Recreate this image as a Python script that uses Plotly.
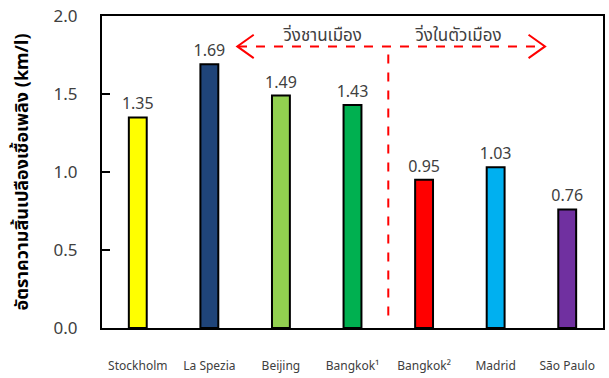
import plotly.graph_objects as go

cities = ["Stockholm", "La Spezia", "Beijing", "Bangkok¹", "Bangkok²", "Madrid", "São Paulo"]
km_per_litre = [1.35, 1.69, 1.49, 1.43, 0.95, 1.03, 0.76]
bar_colors = ["#FFFF00", "#1F4479", "#92D050", "#00B050", "#FF0000", "#00B0F0", "#7030A0"]
y_ticks = [0.0, 0.5, 1.0, 1.5, 2.0]

suburban_label = "วิ่งชานเมือง"
urban_label = "วิ่งในตัวเมือง"
y_title = "อัตราความสิ้นเปลืองเชื้อเพลิง (km/l)"

font_family = "Noto Sans, Noto Sans Thai, sans-serif"
text_grey = "#404040"

fig = go.Figure()
fig.add_trace(go.Bar(
    x=list(range(len(cities))),
    y=km_per_litre,
    width=0.25,
    marker=dict(color=bar_colors, line=dict(color="black", width=2)),
    text=[f"{v:.2f}" for v in km_per_litre],
    textposition="outside",
    constraintext="none",
    textfont=dict(family=font_family, size=16, color=text_grey),
    cliponaxis=False,
))

dash_style = dict(color="#FF0000", width=2, dash="dash")
# group divider and the horizontal guide line
fig.add_shape(type="line", xref="x", yref="y", x0=3.5, x1=3.5, y0=0.08, y1=1.805, line=dash_style)
fig.add_shape(type="line", xref="x", yref="y", x0=1.4, x1=5.68, y0=1.805, y1=1.805, line=dash_style)
# arrow heads
fig.add_shape(type="path", xref="x", yref="y",
              path="M 1.62 1.88 L 1.39 1.805 L 1.62 1.73",
              line=dict(color="#FF0000", width=2))
fig.add_shape(type="path", xref="x", yref="y",
              path="M 5.46 1.88 L 5.69 1.805 L 5.46 1.73",
              line=dict(color="#FF0000", width=2))

fig.add_annotation(x=2.58, y=1.88, xref="x", yref="y", text=suburban_label, showarrow=False,
                   font=dict(family=font_family, size=17, color=text_grey), yanchor="middle")
fig.add_annotation(x=4.48, y=1.88, xref="x", yref="y", text=urban_label, showarrow=False,
                   font=dict(family=font_family, size=17, color=text_grey), yanchor="middle")

fig.update_layout(
    width=609, height=378,
    margin=dict(l=102, r=4, t=12, b=48),
    paper_bgcolor="white", plot_bgcolor="white",
    showlegend=False,
    xaxis=dict(
        range=[-0.5, 6.5],
        tickmode="array", tickvals=list(range(len(cities))), ticktext=cities,
        tickfont=dict(family=font_family, size=12, color=text_grey),
        showline=True, linecolor="black", linewidth=2, mirror=True,
        showgrid=False, ticks="", ticklabelstandoff=26,
    ),
    yaxis=dict(
        range=[0, 2.0],
        tickmode="array", tickvals=y_ticks, ticktext=[f"{t:.1f}" for t in y_ticks],
        tickfont=dict(family=font_family, size=17, color=text_grey),
        showline=True, linecolor="black", linewidth=2, mirror=True,
        showgrid=False, zeroline=False,
        ticks="inside", ticklen=8, tickwidth=2, tickcolor="black",
        ticklabelstandoff=19, ticklabeloverflow="allow",
        title=dict(text=f"<b>{y_title}</b>", font=dict(family=font_family, size=18, color="black"),
                   standoff=20),
    ),
)

fig.write_html("out.html")
